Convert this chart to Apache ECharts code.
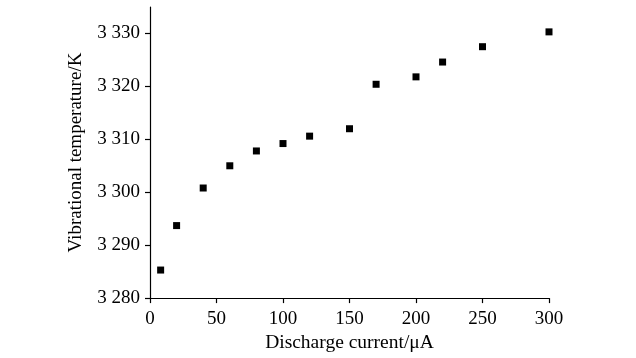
<!DOCTYPE html>
<html><head><meta charset="utf-8">
<script src="https://cdn.jsdelivr.net/npm/echarts@6/dist/echarts.min.js"></script>
<style>html,body{margin:0;padding:0;background:#fff}#c{width:636px;height:358px}</style>
</head><body><div id="c"></div>
<script>
const currents = [8, 20, 40, 60, 80, 100, 120, 150, 170, 200, 220, 250, 300];
const temperatures = [3285.3, 3293.7, 3300.8, 3305.0, 3307.8, 3309.2, 3310.6, 3312.0, 3320.4, 3321.8, 3324.6, 3327.5, 3330.3];
const xTicks = [0, 50, 100, 150, 200, 250, 300];
const yTicks = [3280, 3290, 3300, 3310, 3320, 3330];

const font = 'Liberation Serif';
const chart = echarts.init(document.getElementById('c'));
chart.setOption({
  animation: false,
  backgroundColor: '#fff',
  grid: {left: 150, right: 87, top: 7, bottom: 58},
  xAxis: {
    type: 'value', min: 0, max: 300, interval: 50,
    name: 'Discharge current/\u03bcA', nameLocation: 'middle', nameGap: 32,
    nameTextStyle: {fontFamily: font, fontSize: 19.5, color: '#000'},
    axisLine: {show: true, lineStyle: {color: '#000', width: 1.2}},
    axisTick: {show: true, length: 5, inside: false, lineStyle: {color: '#000', width: 1.2}, customValues: xTicks},
    axisLabel: {fontFamily: font, fontSize: 19, color: '#000', margin: 11, customValues: xTicks},
    splitLine: {show: false}
  },
  yAxis: {
    type: 'value', min: 3280, max: 3335, interval: 10,
    name: 'Vibrational temperature/K', nameLocation: 'middle', nameGap: 64,
    nameTextStyle: {fontFamily: font, fontSize: 19, color: '#000'},
    axisLine: {show: true, lineStyle: {color: '#000', width: 1.2}},
    axisTick: {show: true, length: 5, inside: false, lineStyle: {color: '#000', width: 1.2}, customValues: yTicks},
    axisLabel: {fontFamily: font, fontSize: 19, color: '#000', margin: 10, customValues: yTicks,
      formatter: v => { const s = String(Math.round(v)); return s.slice(0, s.length - 3) + ' ' + s.slice(-3); }},
    splitLine: {show: false}
  },
  series: [{
    type: 'scatter', symbol: 'rect', symbolSize: 7,
    itemStyle: {color: '#000', opacity: 1},
    data: currents.map((c, i) => [c, temperatures[i]])
  }]
});
</script></body></html>
